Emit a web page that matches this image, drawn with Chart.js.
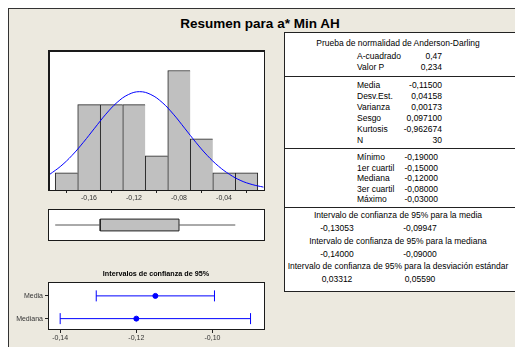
<!DOCTYPE html>
<html>
<head>
<meta charset="utf-8">
<script src="https://cdn.jsdelivr.net/npm/chart.js@4.4.0/dist/chart.umd.min.js"></script>
<style>
  html, body { margin: 0; padding: 0; background: #fff; }
  #page { position: relative; width: 515px; height: 347px; overflow: hidden; font-family: "Liberation Sans", Arial, sans-serif; color: #000; }
  #panel { position: absolute; left: 8px; top: 8px; width: 520px; height: 350px; background: #ece9df; border-left: 1px solid #333; border-top: 1px solid #333; }
  #title { position: absolute; left: 160px; width: 200px; top: 15px; text-align: center; font-weight: bold; font-size: 13.5px; line-height: 18px; white-space: nowrap; }
  #ciTitle { position: absolute; left: 56px; width: 200px; top: 269px; text-align: center; font-weight: bold; font-size: 7.2px; line-height: 10px; white-space: nowrap; }
  #tbl { position: absolute; left: 284px; top: 32px; width: 240px; height: 258px; background: #fff; border: 1px solid #222; }
  .sep { position: absolute; left: 284px; width: 240px; height: 0; border-top: 1px solid #222; }
  .t { position: absolute; font-size: 8.5px; line-height: 10px; white-space: nowrap; }
  .plotbg { position: absolute; background: #fff; }
  .plotframe { position: absolute; box-sizing: border-box; border: 1px solid #1a1a1a; }
  canvas { position: absolute; }
</style>
</head>
<body>
<div id="page">
  <div id="panel"></div>
  <div id="title">Resumen para a* Min AH</div>
  <div id="tbl"></div>
  <div id="cells"></div>
  <div class="plotbg" style="left:48px;top:50px;width:217px;height:141px"></div>
  <div class="plotbg" style="left:48px;top:209px;width:217px;height:32px"></div>
  <div class="plotbg" style="left:48px;top:282px;width:217px;height:48px"></div>
  <canvas id="hist" width="233" height="160" style="left:40px;top:46px"></canvas>
  <canvas id="box" width="233" height="40" style="left:40px;top:205px"></canvas>
  <div id="ciTitle">Intervalos de confianza de 95%</div>
  <canvas id="ci" width="265" height="68" style="left:8px;top:278px"></canvas>
  <div class="plotframe" style="left:48px;top:50px;width:217px;height:141px;border-width:2px 1px 1px 2px"></div>
  <div class="plotframe" style="left:48px;top:209px;width:217px;height:32px"></div>
  <div class="plotframe" style="left:48px;top:282px;width:217px;height:48px"></div>
</div>
<script>
/* histogram: bin centres (width 0.02) and counts */
const binCenters = [-0.18, -0.16, -0.14, -0.12, -0.10, -0.08, -0.06, -0.04, -0.02];
const binCounts  = [1, 5, 5, 5, 2, 7, 3, 1, 1];
/* fitted normal curve, in counts per bin */
const curveX = [-0.195, -0.185, -0.175, -0.165, -0.155, -0.145, -0.135, -0.125, -0.115, -0.105,
                -0.095, -0.085, -0.075, -0.065, -0.055, -0.045, -0.035, -0.025, -0.015, -0.005];
const curveY = [0.91, 1.40, 2.03, 2.79, 3.62, 4.44, 5.13, 5.59, 5.76, 5.59,
                5.13, 4.44, 3.62, 2.79, 2.03, 1.40, 0.91, 0.55, 0.32, 0.17];
const histTicks = [-0.16, -0.12, -0.08, -0.04];

/* box plot: min, Q1, median, Q3, max */
const boxStats = [-0.19, -0.15, -0.12, -0.08, -0.03];

/* 95% confidence intervals */
const ciRows  = ['Media', 'Mediana'];
const ciLow   = [-0.13053, -0.14];
const ciEst   = [-0.115, -0.12];
const ciHigh  = [-0.09947, -0.09];
const ciTicks = [-0.14, -0.12, -0.10];

/* summary table */
const adLabels   = ['A-cuadrado', 'Valor P'];
const adValues   = ['0,47', '0,234'];
const momLabels  = ['Media', 'Desv.Est.', 'Varianza', 'Sesgo', 'Kurtosis', 'N'];
const momValues  = ['-0,11500', '0,04158', '0,00173', '0,097100', '-0,962674', '30'];
const quantLabels = ['Mínimo', '1er cuartil', 'Mediana', '3er cuartil', 'Máximo'];
const quantValues = ['-0,19000', '-0,15000', '-0,12000', '-0,08000', '-0,03000'];
const ciHeads = ['Intervalo de confianza de 95% para la media',
                 'Intervalo de confianza de 95% para la mediana',
                 'Intervalo de confianza de 95% para la desviación estándar'];
const ciLows  = ['-0,13053', '-0,14000', '0,03312'];
const ciHighs = ['-0,09947', '-0,09000', '0,05590'];

const INK = '#222';
const BLUE = '#0000ff';
const fmtTick = v => v.toFixed(2).replace('.', ',');

// ---- table text ----
const cells = document.getElementById('cells');
function put(text, x, yc, align) {
  const d = document.createElement('div');
  d.className = 't';
  d.textContent = text;
  d.style.top = (yc - 5) + 'px';
  if (align === 'left') d.style.left = x + 'px';
  else if (align === 'right') { d.style.right = (515 - x) + 'px'; }
  else { d.style.left = (x - 150) + 'px'; d.style.width = '300px'; d.style.textAlign = 'center'; }
  cells.appendChild(d);
}
function sep(y) {
  const d = document.createElement('div');
  d.className = 'sep';
  d.style.top = y + 'px';
  cells.appendChild(d);
}
put('Prueba de normalidad de Anderson-Darling', 398, 43, 'center');
adLabels.forEach((l, i) => { put(l, 357, 56 + i * 11, 'left'); put(adValues[i], 442, 56 + i * 11, 'right'); });
sep(76);
momLabels.forEach((l, i) => { put(l, 357, 85 + i * 11, 'left'); put(momValues[i], 442, 85 + i * 11, 'right'); });
sep(148);
quantLabels.forEach((l, i) => { put(l, 357, 157 + i * 10.5, 'left'); put(quantValues[i], 438, 157 + i * 10.5, 'right'); });
sep(207);
ciHeads.forEach((h, i) => {
  const y = 215 + i * 25.5;
  put(h, 398, y, 'center');
  put(ciLows[i], 337, y + 13, 'center');
  put(ciHighs[i], 420, y + 13, 'center');
});

const baseOpts = () => ({ animation: false, responsive: false, events: [],
  plugins: { legend: { display: false }, tooltip: { enabled: false } } });

// ---- histogram with normal curve ----
const lastBin = binCounts.length - 1;
new Chart(document.getElementById('hist'), {
  type: 'bar',
  data: {
    datasets: [
      { type: 'line', data: curveX.map((x, i) => ({ x, y: curveY[i] })),
        borderColor: BLUE, borderWidth: 1, pointRadius: 0, tension: 0.4, order: 0 },
      { type: 'bar', data: binCenters.map((x, i) => ({ x, y: binCounts[i] })),
        backgroundColor: '#c0c0c0', borderColor: INK,
        borderWidth: c => ({ top: 1, left: 1, bottom: 0, right: c.dataIndex === lastBin ? 1 : 0 }),
        borderSkipped: false, barPercentage: 1, categoryPercentage: 1, order: 1 }
    ]
  },
  options: {
    ...baseOpts(),
    layout: { padding: { left: 8, right: 8, top: 4, bottom: 0 } },
    scales: {
      x: { type: 'linear', min: -0.1964, max: -0.0036, offset: false,
        afterBuildTicks: s => { s.ticks = histTicks.map(v => ({ value: v })); },
        afterFit: s => { s.height = 16; },
        ticks: { font: { size: 7 }, color: '#333', padding: 1, callback: v => fmtTick(v) },
        grid: { drawOnChartArea: false, tickLength: 3, color: INK },
        border: { display: false } },
      y: { display: false, min: 0, max: 8.2 }
    }
  }
});

// ---- box plot ----
const [bMin, bQ1, bMed, bQ3, bMax] = boxStats;
const BH = 0.37;
new Chart(document.getElementById('box'), {
  type: 'scatter',
  data: {
    datasets: [
      { data: [{ x: bMin, y: 0 }, { x: bQ1, y: 0 }], showLine: true, borderColor: '#555', borderWidth: 1, pointRadius: 0 },
      { data: [{ x: bQ3, y: 0 }, { x: bMax, y: 0 }], showLine: true, borderColor: '#555', borderWidth: 1, pointRadius: 0 },
      { data: [{ x: bQ1, y: -BH }, { x: bQ3, y: -BH }, { x: bQ3, y: BH }, { x: bQ1, y: BH }, { x: bQ1, y: -BH }],
        showLine: true, fill: 'shape', backgroundColor: '#c0c0c0', borderColor: INK, borderWidth: 1, pointRadius: 0, tension: 0 },
      { data: [{ x: bMed, y: -BH }, { x: bMed, y: BH }], showLine: true, borderColor: INK, borderWidth: 1, pointRadius: 0 }
    ]
  },
  options: {
    ...baseOpts(),
    layout: { padding: { left: 8, right: 8, top: 4, bottom: 4 } },
    scales: {
      x: { display: false, min: -0.1964, max: -0.0036 },
      y: { display: false, min: -1, max: 1 }
    }
  }
});

// ---- confidence intervals ----
const ciSets = [];
ciRows.forEach((r, i) => {
  ciSets.push({ data: [{ x: ciLow[i], y: r }, { x: ciHigh[i], y: r }], showLine: true,
    borderColor: BLUE, borderWidth: 1, pointStyle: 'line', rotation: 90, pointRadius: 5.5,
    pointBorderColor: BLUE, pointBorderWidth: 1 });
  ciSets.push({ data: [{ x: ciEst[i], y: r }], pointStyle: 'circle', pointRadius: 2.5,
    backgroundColor: BLUE, borderColor: BLUE });
});
new Chart(document.getElementById('ci'), {
  type: 'scatter',
  data: { datasets: ciSets },
  options: {
    ...baseOpts(),
    layout: { padding: { left: 0, right: 8, top: 4, bottom: 0 } },
    scales: {
      x: { type: 'linear', min: -0.1432, max: -0.0862,
        afterBuildTicks: s => { s.ticks = ciTicks.map(v => ({ value: v })); },
        afterFit: s => { s.height = 16; },
        ticks: { font: { size: 7 }, color: '#333', padding: 1, callback: v => fmtTick(v) },
        grid: { drawOnChartArea: false, tickLength: 3, color: INK },
        border: { display: false } },
      y: { type: 'category', labels: ciRows, offset: true,
        afterFit: s => { s.width = 40; },
        ticks: { font: { size: 7 }, color: '#333', padding: 2 },
        grid: { drawOnChartArea: false, tickLength: 3, color: INK, offset: false },
        border: { display: false } }
    }
  }
});
</script>
</body>
</html>
